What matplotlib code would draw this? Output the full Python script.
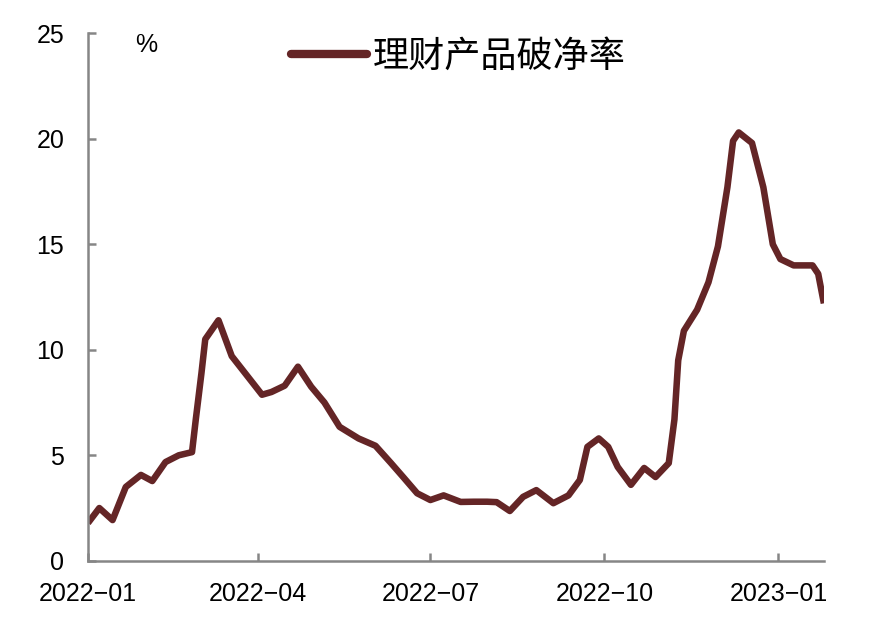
import pandas as pd
import numpy as np
import matplotlib
matplotlib.use('Agg')
import matplotlib.pyplot as plt

plt.rcParams['font.family'] = ['Liberation Sans', 'Noto Sans CJK SC', 'DejaVu Sans']

# values
dates = ['2022-01-01', '2022-01-07', '2022-01-14', '2022-01-21', '2022-01-29', '2022-02-04',
         '2022-02-11', '2022-02-18', '2022-02-25', '2022-02-27', '2022-03-02', '2022-03-04',
         '2022-03-11', '2022-03-18', '2022-03-25', '2022-04-03', '2022-04-08', '2022-04-15',
         '2022-04-22', '2022-04-29', '2022-05-06', '2022-05-14', '2022-05-24', '2022-06-02',
         '2022-06-10', '2022-06-17', '2022-06-24', '2022-07-01', '2022-07-08', '2022-07-17',
         '2022-07-24', '2022-07-31', '2022-08-05', '2022-08-12', '2022-08-19', '2022-08-26',
         '2022-09-04', '2022-09-12', '2022-09-18', '2022-09-22', '2022-09-28', '2022-10-03',
         '2022-10-08', '2022-10-15', '2022-10-22', '2022-10-28', '2022-11-04', '2022-11-07',
         '2022-11-09', '2022-11-12', '2022-11-19', '2022-11-25', '2022-11-30', '2022-12-05',
         '2022-12-08', '2022-12-11', '2022-12-18', '2022-12-24', '2022-12-29', '2023-01-02',
         '2023-01-09', '2023-01-19', '2023-01-22', '2023-01-25']
ratio = [1.79, 2.5, 1.93, 3.5, 4.07, 3.78,
         4.68, 5.0, 5.15, 6.7, 8.9, 10.5,
         11.4, 9.7, 8.9, 7.87, 8.0, 8.3,
         9.2, 8.25, 7.5, 6.35, 5.8, 5.45,
         4.65, 3.93, 3.2, 2.88, 3.1, 2.79,
         2.8, 2.8, 2.78, 2.36, 3.03, 3.35,
         2.73, 3.1, 3.83, 5.4, 5.8, 5.4,
         4.45, 3.6, 4.4, 3.97, 4.63, 6.7,
         9.5, 10.9, 11.9, 13.2, 14.9, 17.7,
         19.9, 20.3, 19.8, 17.7, 15.0, 14.3,
         14.0, 14.0, 13.6, 12.2]

tick_dates = ['2022-01-01', '2022-04-01', '2022-07-01', '2022-10-01', '2023-01-01']
tick_labels = ['2022\u221201', '2022\u221204', '2022\u221207', '2022\u221210', '2023\u221201']

df = pd.DataFrame({'date': pd.to_datetime(dates), 'ratio': ratio})

line_color = '#642526'
axis_color = '#868686'

fig = plt.figure(figsize=(8.84, 6.28), dpi=100)
ax = fig.add_axes([0.0995, 0.107, 0.8325, 0.840])

ax.plot(df['date'], df['ratio'], color=line_color, lw=4.7,
        solid_joinstyle='round', solid_capstyle='butt', label='理财产品破净率')

ax.set_xlim(pd.Timestamp('2022-01-01'), pd.Timestamp('2023-01-25'))
ax.set_ylim(0, 25)
ax.set_yticks([0, 5, 10, 15, 20, 25])
ax.set_xticks(pd.to_datetime(tick_dates))
ax.set_xticklabels(tick_labels)

for s in ['top', 'right']:
    ax.spines[s].set_visible(False)
for s in ['left', 'bottom']:
    ax.spines[s].set_color(axis_color)
    ax.spines[s].set_linewidth(1.8)

ax.tick_params(axis='both', direction='in', length=6, width=1.8, color=axis_color,
               labelsize=18, labelcolor='black')
ax.tick_params(axis='x', pad=15)
ax.tick_params(axis='y', pad=17)

ax.text(0.079, 1.0, '%', transform=ax.transAxes, fontsize=18, ha='center', va='top')

leg = ax.legend(loc='center', bbox_to_anchor=(0.503, 0.956), frameon=False,
                prop={'family': ['Noto Sans CJK SC'], 'size': 26},
                handlelength=2.1, handletextpad=0.15)
for h in leg.get_lines():
    h.set_linewidth(6)
    h.set_solid_capstyle('round')

fig.savefig('out.png', dpi=100)
